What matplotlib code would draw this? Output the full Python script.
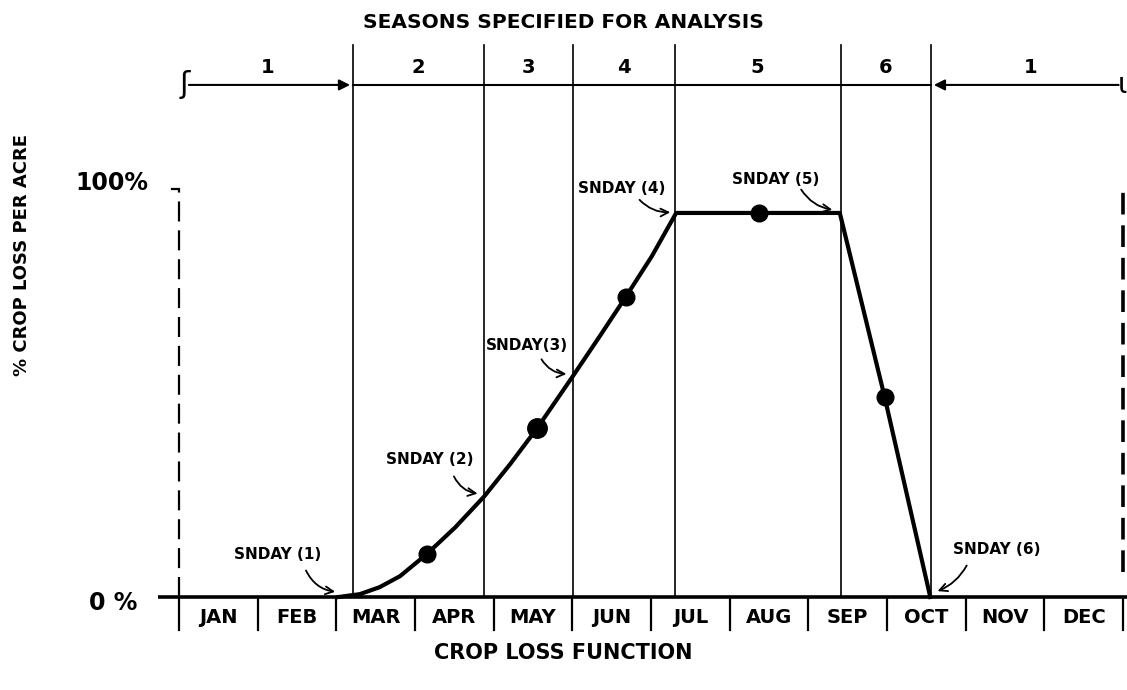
import matplotlib
matplotlib.use('Agg')
import matplotlib.pyplot as plt

# months along the bottom, season boundaries (in months from Jan 1)
months = ['JAN', 'FEB', 'MAR', 'APR', 'MAY', 'JUN', 'JUL', 'AUG', 'SEP', 'OCT', 'NOV', 'DEC']
season_bounds = [2.21, 3.88, 5.01, 6.30, 8.41, 9.56]
season_names = ['2', '3', '4', '5', '6']

# crop loss curve (month, % loss)
curve_x = [2.03, 2.30, 2.55, 2.81, 3.15, 3.51, 3.88, 4.21, 4.55, 5.00, 5.35, 5.68, 6.01, 6.32, 7.37, 8.40, 8.97, 9.55]
curve_y = [0.0, 0.7, 2.4, 5.1, 10.5, 17.0, 24.6, 32.5, 41.2, 53.8, 63.8, 73.4, 83.3, 93.9, 93.9, 93.9, 48.9, 0.0]

# the dots on the curve
dot_x = [3.15, 4.55, 5.68, 7.37, 8.97]
dot_y = [10.5, 41.2, 73.4, 93.9, 48.9]
dot_size = [12, 14, 12, 12, 12]

# SNDAY labels: text position, arrow tail, arrow head, bend
snday_labels = ['SNDAY (1)', 'SNDAY (2)', 'SNDAY(3)', 'SNDAY (4)', 'SNDAY (5)', 'SNDAY (6)']
snday_text = [(1.26, 10.3), (3.19, 33.7), (4.42, 61.6), (5.63, 99.8), (7.58, 102.0), (10.40, 11.7)]
snday_tail = [(1.60, 7.1), (3.48, 30.1), (4.59, 58.7), (5.83, 97.6), (7.89, 100.2), (10.03, 8.3)]
snday_head = [(2.02, 1.2), (3.83, 25.2), (4.96, 54.5), (6.28, 94.1), (8.34, 94.6), (9.61, 1.2)]
snday_rad = [0.3, 0.3, 0.3, 0.25, 0.25, -0.2]

W, H = 1127, 690
fig = plt.figure(figsize=(W / 100, H / 100), dpi=100)
ax = fig.add_axes([179 / W, (H - 597) / H, 944 / W, 409 / H])
ax.set_xlim(0, 12)
ax.set_ylim(0, 100)
ax.axis('off')

font = {'family': 'DejaVu Sans', 'weight': 'bold'}

# baseline and month ticks
ax.plot([-0.27, 12.1], [0, 0], color='black', lw=2.6, clip_on=False, solid_capstyle='butt')
for i in range(13):
    ax.plot([i, i], [0, -8], color='black', lw=1.6, clip_on=False)
for i, m in enumerate(months):
    ax.text(i + 0.5, -5.0, m, ha='center', va='center', fontsize=14, fontdict=font)

# dashed year limits
ax.plot([0, 0], [0, 99.5], color='black', lw=1.6, ls=(0, (9, 4)), clip_on=False)
ax.plot([-0.09, 0], [99.8, 99.8], color='black', lw=1.6, clip_on=False)
ax.plot([12.0, 12.0], [6, 99], color='black', lw=2.6, ls=(0, (6, 3)), clip_on=False)

# season boundary lines
for b in season_bounds:
    ax.plot([b, b], [0, 135], color='black', lw=1.2, clip_on=False)

# season arrow line at top
ax.plot([season_bounds[0], season_bounds[-1]], [125.2, 125.2], color='black', lw=1.5, clip_on=False)
ax.annotate('', xy=(season_bounds[0], 125.2), xytext=(0.09, 125.2),
            arrowprops=dict(arrowstyle='-|>', color='black', lw=1.5, mutation_scale=16), annotation_clip=False)
ax.annotate('', xy=(season_bounds[-1], 125.2), xytext=(11.98, 125.2),
            arrowprops=dict(arrowstyle='-|>', color='black', lw=1.5, mutation_scale=16), annotation_clip=False)
ax.text(0.07, 125.2, 'ʃ', ha='center', va='center', fontsize=22, clip_on=False)
ax.text(11.99, 125.2, 'ɩ', ha='center', va='center', fontsize=20, clip_on=False)

ax.text(1.13, 129.5, '1', ha='center', va='center', fontsize=14, fontdict=font)
ax.text(10.82, 129.5, '1', ha='center', va='center', fontsize=14, fontdict=font)
for i, s in enumerate(season_names):
    mid = (season_bounds[i] + season_bounds[i + 1]) / 2
    ax.text(mid, 129.5, s, ha='center', va='center', fontsize=14, fontdict=font)

# the crop loss function
ax.plot(curve_x, curve_y, color='black', lw=3, clip_on=False, solid_joinstyle='round')
for x, y, s in zip(dot_x, dot_y, dot_size):
    ax.plot(x, y, 'o', color='black', markersize=s, clip_on=False)

# SNDAY annotations
for lab, t, a, b, r in zip(snday_labels, snday_text, snday_tail, snday_head, snday_rad):
    ax.text(t[0], t[1], lab, ha='center', va='center', fontsize=11, fontdict=font)
    ax.annotate('', xy=b, xytext=a,
                arrowprops=dict(arrowstyle='->', color='black', lw=1.3,
                                connectionstyle='arc3,rad=%s' % r, mutation_scale=14),
                annotation_clip=False)

# y axis values
ax.text(-0.84, -1.5, '0 %', ha='center', va='center', fontsize=17, fontdict=font)
ax.text(-0.85, 101.2, '100%', ha='center', va='center', fontsize=17, fontdict=font)

fig.text(563 / W, 1 - 22 / H, 'SEASONS SPECIFIED FOR ANALYSIS', ha='center', va='center', fontsize=14.5, fontdict=font)
fig.text(563 / W, 1 - 653 / H, 'CROP LOSS FUNCTION', ha='center', va='center', fontsize=15, fontdict=font)
fig.text(22 / W, 1 - 255 / H, '% CROP LOSS PER ACRE', ha='center', va='center', rotation=90, fontsize=13, fontdict=font)

plt.savefig('out.png', dpi=100, facecolor='white')
